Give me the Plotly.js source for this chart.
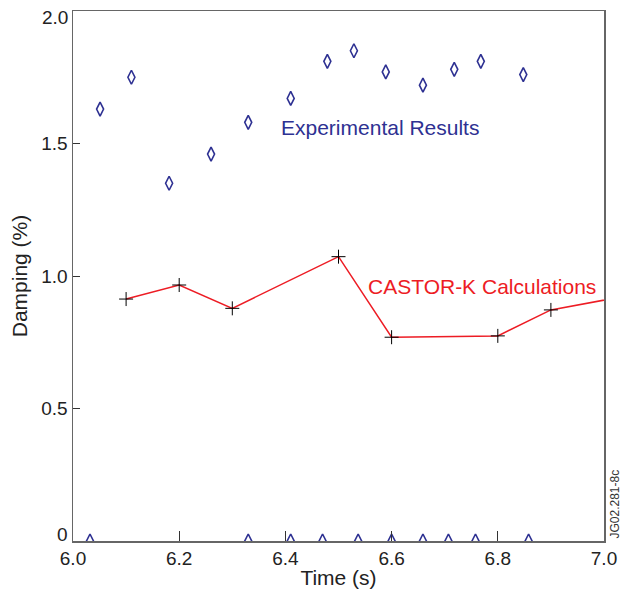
<!DOCTYPE html>
<html>
<head>
<meta charset="utf-8">
<script src="https://cdn.plot.ly/plotly-3.0.1.min.js"></script>
<style>html,body{margin:0;padding:0;background:#fff;}#chart{width:625px;height:589px;}</style>
</head>
<body>
<div id="chart"></div>
<script>
// Experimental results (diamonds)
const expTime = [6.051, 6.110, 6.181, 6.260, 6.330, 6.410, 6.479, 6.529, 6.589, 6.659, 6.718, 6.768, 6.848];
const expDamping = [1.63, 1.75, 1.35, 1.46, 1.58, 1.67, 1.81, 1.85, 1.77, 1.72, 1.78, 1.81, 1.76];
// Experimental points at zero damping
const zeroTime = [6.032, 6.330, 6.410, 6.470, 6.537, 6.600, 6.659, 6.707, 6.758, 6.858];
const zeroDamping = [0, 0, 0, 0, 0, 0, 0, 0, 0, 0];
// CASTOR-K calculations
const calcTime = [6.1, 6.2, 6.3, 6.5, 6.6, 6.8, 6.9, 7.1];
const calcDamping = [0.913, 0.966, 0.878, 1.073, 0.769, 0.774, 0.872, 0.946];
// Ticks
const xTickVals = [6.0, 6.2, 6.4, 6.6, 6.8, 7.0];
const xTickText = ["6.0", "6.2", "6.4", "6.6", "6.8", "7.0"];
const yTickVals = [0, 0.5, 1.0, 1.5, 2.0];
const yTickText = ["0", "0.5", "1.0", "1.5", "2.0"];

const blue = '#2e3192';
const red = '#ed1c24';
const font = 'Liberation Sans, Arial, sans-serif';
const txt = '#222';

const traces = [
  {x: calcTime, y: calcDamping, mode: 'lines+markers', type: 'scatter',
   line: {color: red, width: 1.5},
   marker: {symbol: 'cross-thin-open', size: 10, color: '#000', line: {color: '#000', width: 1}},
   cliponaxis: true, hoverinfo: 'none'},
  {x: expTime, y: expDamping, mode: 'markers', type: 'scatter',
   marker: {symbol: 'diamond-tall-open', size: 10, color: blue, line: {color: blue, width: 1.6}},
   cliponaxis: true, hoverinfo: 'none'},
  {x: zeroTime, y: zeroDamping, mode: 'markers', type: 'scatter',
   marker: {symbol: 'diamond-tall-open', size: 10, color: blue, line: {color: blue, width: 1.6}},
   cliponaxis: true, hoverinfo: 'none'}
];

// y tick labels at the ends are drawn as annotations, nudged into place as in the reference
const yAxisText = yTickText.map((t, i) => (i === 0 || i === yTickText.length - 1) ? '' : t);
const endLabels = [
  {value: yTickVals[0], text: yTickText[0], shift: 7},
  {value: yTickVals[yTickVals.length - 1], text: yTickText[yTickText.length - 1], shift: -6}
].map(d => ({xref: 'paper', yref: 'y', x: 0, y: d.value, text: d.text, xanchor: 'right', yanchor: 'middle',
  xshift: -3, yshift: d.shift, showarrow: false, font: {family: font, size: 19, color: txt}}));

const layout = {
  width: 625, height: 589,
  margin: {l: 73, r: 21, t: 11, b: 48},
  paper_bgcolor: '#fff', plot_bgcolor: '#fff',
  showlegend: false,
  font: {family: font, size: 19, color: txt},
  xaxis: {
    range: [6.0, 7.0], tickvals: xTickVals, ticktext: xTickText,
    ticks: 'inside', ticklen: 10, tickcolor: '#333', tickwidth: 1,
    showgrid: false, zeroline: false,
    showline: true, linecolor: '#666', linewidth: 1.5, mirror: true,
    tickfont: {family: font, size: 19, color: txt},
    title: {text: 'Time (s)', font: {family: font, size: 21, color: txt}, standoff: 4}
  },
  yaxis: {
    range: [0, 2.0], tickvals: yTickVals, ticktext: yAxisText,
    ticks: 'inside', ticklen: 7, tickcolor: '#333', tickwidth: 1,
    showgrid: false, zeroline: false,
    showline: true, linecolor: '#666', linewidth: 1.5, mirror: true,
    tickfont: {family: font, size: 19, color: txt},
    title: {text: 'Damping (%)', font: {family: font, size: 21, color: txt}, standoff: 8}
  },
  annotations: [
    {xref: 'paper', yref: 'paper', x: (380-73)/531, y: (541-128)/530, text: 'Experimental Results',
     showarrow: false, font: {family: font, size: 21, color: blue}, xanchor: 'center', yanchor: 'middle'},
    {xref: 'paper', yref: 'paper', x: (482-73)/531, y: (541-286)/530, text: 'CASTOR-K Calculations',
     showarrow: false, font: {family: font, size: 21, color: red}, xanchor: 'center', yanchor: 'middle'},
    {xref: 'paper', yref: 'paper', x: (614-73)/531, y: 0.0, text: 'JG02.281-8c', textangle: -90,
     showarrow: false, font: {family: font, size: 12, color: '#333'}, xanchor: 'center', yanchor: 'bottom'}
  ].concat(endLabels)
};

Plotly.newPlot('chart', traces, layout, {displayModeBar: false, staticPlot: true});
</script>
</body>
</html>
